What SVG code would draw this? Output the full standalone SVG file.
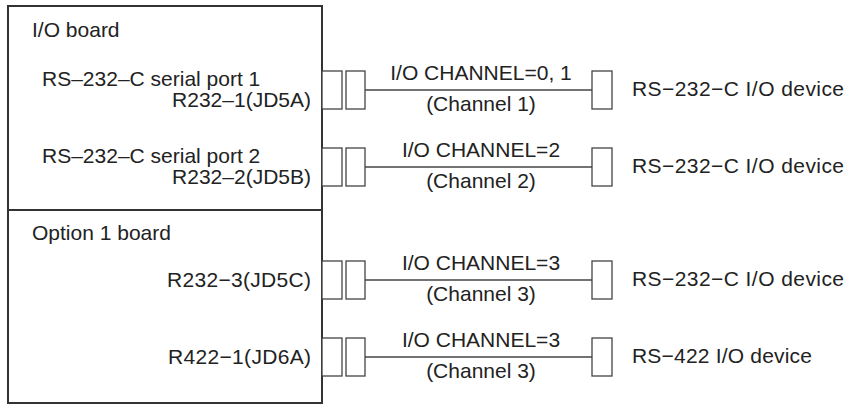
<svg xmlns="http://www.w3.org/2000/svg" width="844" height="404" viewBox="0 0 844 404">
<style>
text{font-family:"Liberation Sans",Arial,sans-serif;font-size:21px;fill:#222}
.end{text-anchor:end}
.mid{text-anchor:middle}
.board{fill:none;stroke:#333;stroke-width:2}
.conn{fill:#fff;stroke:#444;stroke-width:1.3}
.wire{stroke:#444;stroke-width:1.3;fill:none}
</style>
<rect width="844" height="404" fill="#fff"/>
<g id="io-board">
<rect class="board" x="8" y="6" width="314" height="204"/>
<text x="32" y="37">I/O board</text>
<text x="42" y="86">RS–232–C serial port 1</text>
<text class="end" x="311" y="107">R232–1(JD5A)</text>
<text x="42" y="163">RS–232–C serial port 2</text>
<text class="end" x="311" y="184">R232–2(JD5B)</text>
</g>
<g id="option-board">
<rect class="board" x="8" y="210" width="314" height="193"/>
<text x="32" y="240">Option 1 board</text>
<text x="167" y="287" textLength="144" lengthAdjust="spacing">R232−3(JD5C)</text>
<text x="168" y="364" textLength="143" lengthAdjust="spacing">R422−1(JD6A)</text>
</g>
<g id="connectors">
<g id="ch1">
<rect class="conn" x="322" y="71" width="20" height="38"/>
<rect class="conn" x="346" y="71" width="19" height="38"/>
<line class="wire" x1="365" y1="90" x2="592" y2="90"/>
<text class="mid" x="481" y="80">I/O CHANNEL=0, 1</text>
<text class="mid" x="481" y="111">(Channel 1)</text>
</g>
<g id="ch2">
<rect class="conn" x="322" y="148" width="20" height="38"/>
<rect class="conn" x="346" y="148" width="19" height="38"/>
<line class="wire" x1="365" y1="167" x2="592" y2="167"/>
<text class="mid" x="481" y="157">I/O CHANNEL=2</text>
<text class="mid" x="481" y="188">(Channel 2)</text>
</g>
<g id="ch3">
<rect class="conn" x="322" y="261" width="20" height="38"/>
<rect class="conn" x="346" y="261" width="19" height="38"/>
<line class="wire" x1="365" y1="280" x2="592" y2="280"/>
<text class="mid" x="481" y="270">I/O CHANNEL=3</text>
<text class="mid" x="481" y="301">(Channel 3)</text>
</g>
<g id="ch4">
<rect class="conn" x="322" y="338" width="20" height="38"/>
<rect class="conn" x="346" y="338" width="19" height="38"/>
<line class="wire" x1="365" y1="357" x2="592" y2="357"/>
<text class="mid" x="481" y="347">I/O CHANNEL=3</text>
<text class="mid" x="481" y="378">(Channel 3)</text>
</g>
</g>
<g id="device1">
<rect class="conn" x="592" y="71" width="20" height="38"/>
<text x="632" y="96" textLength="212" lengthAdjust="spacing">RS−232−C I/O device</text>
</g>
<g id="device2">
<rect class="conn" x="592" y="148" width="20" height="38"/>
<text x="632" y="173" textLength="212" lengthAdjust="spacing">RS−232−C I/O device</text>
</g>
<g id="device3">
<rect class="conn" x="592" y="261" width="20" height="38"/>
<text x="632" y="286" textLength="212" lengthAdjust="spacing">RS−232−C I/O device</text>
</g>
<g id="device4">
<rect class="conn" x="592" y="338" width="20" height="38"/>
<text x="632" y="363" textLength="180" lengthAdjust="spacing">RS−422 I/O device</text>
</g>
</svg>
